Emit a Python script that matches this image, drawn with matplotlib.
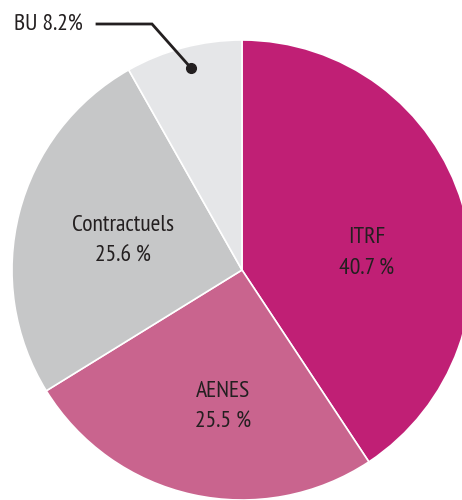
import matplotlib.pyplot as plt
from matplotlib import font_manager

labels = ["ITRF", "AENES", "Contractuels", "BU"]
values = [40.7, 25.5, 25.6, 8.2]
colors = ["#C01F75", "#C9648E", "#C6C7C8", "#E5E6E8"]
pct_text = ["40.7 %", "25.5 %", "25.6\u2009%", "8.2%"]

names = {f.name for f in font_manager.fontManager.ttflist}
fam = "DejaVu Sans"
for cand in ["PT Sans Narrow", "Fira Sans Condensed", "Roboto Condensed",
             "Archivo Narrow", "Barlow Condensed"]:
    if cand in names:
        fam = cand
        break
plt.rcParams["font.family"] = [fam, "DejaVu Sans"]

fig = plt.figure(figsize=(4.62, 5.0), dpi=100)
ax = fig.add_axes([0, 0, 1, 1])
ax.pie(values, colors=colors, startangle=90, counterclock=False,
       center=(242, 230), radius=230,
       wedgeprops=dict(edgecolor="white", linewidth=1.2))
ax.set_xlim(0, 462)
ax.set_ylim(0, 500)
ax.set_aspect("equal")
ax.axis("off")

tc = "#231F20"
fs = 17
# label positions: x centre, baseline of name, baseline of percent (pixels, y up)
pos = {"ITRF": (367, 257, 225), "AENES": (223, 103, 72),
       "Contractuels": (123, 269, 238)}
for lab, pct in zip(labels[:3], pct_text[:3]):
    x, y1, y2 = pos[lab]
    ax.text(x, y1, lab, ha="center", va="baseline", fontsize=fs, color=tc)
    ax.text(x, y2, pct, ha="center", va="baseline", fontsize=fs, color=tc)

# BU callout
ax.plot([97, 152, 191], [476, 476, 432], color="#231F20", lw=2,
        solid_joinstyle="miter")
ax.plot(191, 432, "o", color="#231F20", ms=7)
ax.text(14, 469, labels[3] + " " + pct_text[3], ha="left", va="baseline",
        fontsize=fs, color=tc)

fig.savefig("out.png", dpi=100)
